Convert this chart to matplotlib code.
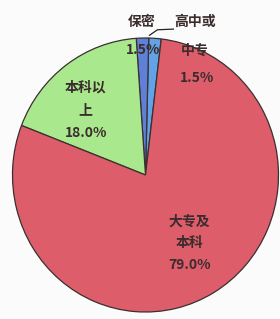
#!/usr/bin/env python3
import matplotlib
matplotlib.use("Agg")
import matplotlib.pyplot as plt

# education level shares (%), drawn counter-clockwise from the start angle
labels = ["高中或\n中专", "保密", "本科以\n上", "大专及\n本科"]
values = [1.5, 1.5, 18.0, 79.0]
colors = ["#62a2e6", "#5f80d6", "#aae88e", "#dd5d6b"]
pct_text = ["1.5%", "1.5%", "18.0%", "79.0%"]


def plot_pie() -> None:
    plt.rcParams["font.family"] = ["Noto Sans CJK SC", "DejaVu Sans"]
    plt.rcParams["font.weight"] = "bold"
    fig = plt.figure(figsize=(2.8, 3.19), dpi=100)
    fig.patch.set_facecolor("#fbfbfb")
    ax = fig.add_axes([12.5 / 280, 7 / 319, 266 / 280, 274 / 319])

    ax.pie(values, colors=colors, startangle=83.2, counterclock=True,
           radius=1.0, wedgeprops=dict(edgecolor="#3a3030", linewidth=0.9))
    # pie() resets the limits, so set them afterwards
    ax.set_xlim(-1, 1)
    ax.set_ylim(-1, 1)
    ax.set_aspect("auto")
    ax.axis("off")

    tc = "#3a2c2c"
    fs = 10
    # 高中或中专 label sits outside, right of the blue slices
    ax.text(0.37, 1.12, "高中或", ha="center", va="center", fontsize=fs, color=tc)
    ax.text(0.37, 0.91, "中专", ha="center", va="center", fontsize=fs, color=tc)
    ax.text(0.39, 0.71, pct_text[0], ha="center", va="center", fontsize=fs, color=tc)
    ax.plot([0.03, 0.09, 0.21], [1.02, 1.06, 1.065], color="#222222", lw=0.9,
            clip_on=False)

    ax.text(-0.03, 1.12, labels[1], ha="center", va="center", fontsize=fs, color=tc)
    ax.text(-0.02, 0.91, pct_text[1], ha="center", va="center", fontsize=fs, color=tc)

    ax.text(-0.45, 0.47, labels[2] + "\n" + pct_text[2], ha="center",
            va="center", fontsize=fs, color=tc, linespacing=1.8)
    ax.text(0.33, -0.50, labels[3] + "\n" + pct_text[3], ha="center",
            va="center", fontsize=fs, color=tc, linespacing=1.7)

    fig.savefig("out.png", dpi=100, facecolor=fig.get_facecolor())
    plt.close(fig)


def main() -> None:
    plot_pie()


if __name__ == "__main__":
    main()
